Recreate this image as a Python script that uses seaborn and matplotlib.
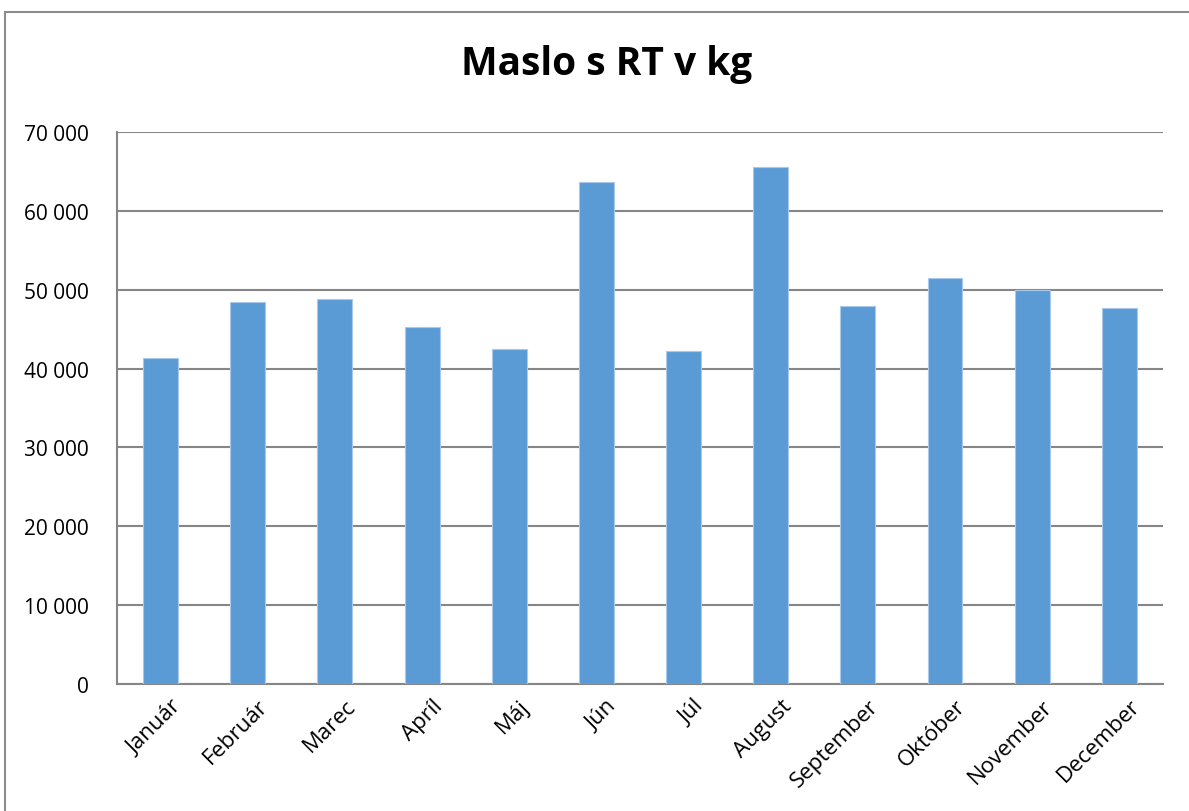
import matplotlib
matplotlib.use('Agg')
import matplotlib.pyplot as plt
import matplotlib.ticker as mticker
import matplotlib.transforms as mtransforms
import seaborn as sns
import pandas as pd

mesiace = ['Január', 'Február', 'Marec', 'Apríl', 'Máj', 'Jún', 'Júl',
           'August', 'September', 'Október', 'November', 'December']
hodnoty = [41300, 48400, 48800, 45300, 42500, 63700, 42200, 65600,
           47900, 51500, 50000, 47700]

dados = pd.DataFrame({'Mesiac': mesiace, 'kg': hodnoty})

sns.set_style('white')
plt.rcParams['font.family'] = ['Open Sans', 'DejaVu Sans']
plt.rcParams['text.color'] = 'black'
plt.rcParams['xtick.color'] = 'black'
plt.rcParams['ytick.color'] = 'black'

fig = plt.figure(figsize=(11.89, 8.12), dpi=100)
ax = fig.add_axes([0.0984, 0.1564, 0.8797, 0.6798])

# ram okolo grafu
fig.patches.append(plt.Rectangle((5 / 1189, -0.1), 1.2, (812 - 13) / 812 + 0.1,
                                 transform=fig.transFigure, fill=False,
                                 edgecolor='#8c8c8c', linewidth=1.5))

sns.barplot(data=dados, x='Mesiac', y='kg', color='#5b9bd5', width=0.4,
            saturation=1, ax=ax, zorder=3, edgecolor='#a9c8ea', linewidth=0.8)

ax.set_ylim(0, 70000)
ax.set_yticks(range(0, 70001, 10000))
ax.yaxis.set_major_formatter(mticker.FuncFormatter(lambda v, p: f'{int(v):,}'.replace(',', ' ')))
ax.grid(axis='y', color='#868686', linewidth=1.5, zorder=0)
ax.set_axisbelow(True)

for s in ['top', 'right']:
    ax.spines[s].set_visible(False)
for s in ['left', 'bottom']:
    ax.spines[s].set_color('#868686')
    ax.spines[s].set_linewidth(1.5)

ax.tick_params(axis='y', labelsize=15, pad=20, length=0, labelcolor='black')
ax.tick_params(axis='x', labelsize=16, length=0, pad=8, labelcolor='black')
posun = mtransforms.ScaledTranslation(10 / 100, 0, fig.dpi_scale_trans)
for lbl in ax.get_xticklabels():
    lbl.set_rotation(45)
    lbl.set_ha('right')
    lbl.set_rotation_mode('anchor')
    lbl.set_transform(lbl.get_transform() + posun)
ax.set_xlabel('')
ax.set_ylabel('')

fig.text(0.51, 0.92, 'Maslo s RT v kg', ha='center', va='center',
         fontsize=28, fontweight='bold', color='black')

fig.savefig('out.png', dpi=100)
